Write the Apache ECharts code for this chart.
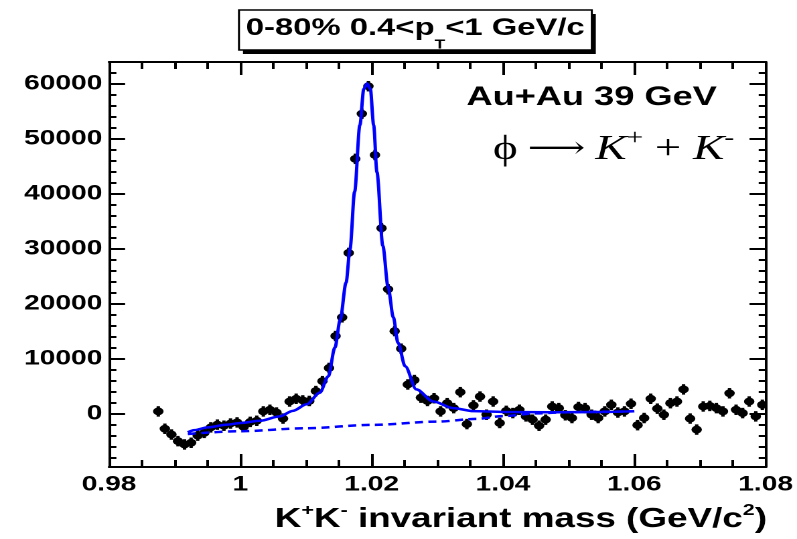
<!DOCTYPE html>
<html>
<head>
<meta charset="utf-8">
<script src="https://cdn.jsdelivr.net/npm/echarts@6/dist/echarts.min.js"></script>
<style>
  html, body { margin: 0; padding: 0; background: #fff; overflow: hidden; }
  #wrap { width: 797px; height: 539px; overflow: hidden; position: relative; }
  /* ROOT canvas is drawn at 595 px wide and stretched horizontally to 797 px */
  #chart { width: 595px; height: 539px; transform: scaleX(1.3395); transform-origin: 0 0; }
</style>
</head>
<body>
<div id="wrap"><div id="chart"></div></div>
<script>
// K+K- invariant-mass bin centres (GeV/c^2)
const massBins = [
  0.9875, 0.9885, 0.9895, 0.9905, 0.9915, 0.9925, 0.9935, 0.9945, 0.9955, 0.9965,
  0.9975, 0.9985, 0.9995, 1.0005, 1.0015, 1.0025, 1.0035, 1.0045, 1.0055, 1.0065,
  1.0075, 1.0085, 1.0095, 1.0105, 1.0115, 1.0125, 1.0135, 1.0145, 1.0155, 1.0165,
  1.0175, 1.0185, 1.0195, 1.0205, 1.0215, 1.0225, 1.0235, 1.0245, 1.0255, 1.0265,
  1.0275, 1.0285, 1.0295, 1.0305, 1.0315, 1.0325, 1.0335, 1.0345, 1.0355, 1.0365,
  1.0375, 1.0385, 1.0395, 1.0405, 1.0415, 1.0425, 1.0435, 1.0445, 1.0455, 1.0465,
  1.0475, 1.0485, 1.0495, 1.0505, 1.0515, 1.0525, 1.0535, 1.0545, 1.0555, 1.0565,
  1.0575, 1.0585, 1.0595, 1.0605, 1.0615, 1.0625, 1.0635, 1.0645, 1.0655, 1.0665,
  1.0675, 1.0685, 1.0695, 1.0705, 1.0715, 1.0725, 1.0735, 1.0745, 1.0755, 1.0765,
  1.0775, 1.0785, 1.0795
];

// background-subtracted pair counts per bin
const counts = [
    400, -2750, -3800, -5000, -5600, -5300, -4000, -3500, -2500, -2000,
  -2200, -1800, -1600, -2400, -1500, -1300,   400,   700,   200,  -900,
   2200,  2700,  2400,  2300,  4100,  5900,  8300, 14100, 17500, 29200,
  46300, 54500, 59500, 47000, 33700, 22600, 15000, 11800,  5300,  6100,
   2900,  2300,  2800,   400,  1900,  1000,  3900, -1900,  1500,  3100,
   -200,  2200, -1700,   500,   100,   700,  -500, -1100, -2200, -1100,
   1300,  1000,  -300,  -800,  1200,  1000,  -200,  -800,   400,  1600,
    200,   400,  1800, -2100,  -800,  2700,   900,  -200,  1900,  2200,
   4400,  -900, -2900,  1300,  1400,  1000,   400,  3700,   700,   100,
   2200,  -500,  1600
];

// statistical error half-length and half bin width
const countErr = 950;
const halfBin = 0.0005;

// total fit (Breit-Wigner + residual background)
const fitMass = [
  0.9920, 0.9930, 0.9950, 0.9980, 1.0000, 1.0030, 1.0060, 1.0080, 1.0101, 1.0121,
  1.0134, 1.0144, 1.0152, 1.0161, 1.0167, 1.0174, 1.0182, 1.0188, 1.0193, 1.0198,
  1.0203, 1.0208, 1.0217, 1.0225, 1.0233, 1.0240, 1.0251, 1.0268, 1.0294, 1.0324,
  1.0355, 1.0400, 1.0470, 1.0550, 1.0600
];
const fitTotal = [
  -3400, -3000, -2500, -2000, -1700, -1300,  -500,   500,  1700,  3800,
   6800, 12000, 17000, 23800, 29900, 40300, 52400, 59000, 60000, 59000,
  52400, 43900, 30500, 23000, 17500, 12900,  8600,  4400,  2200,  1000,
    450,   300,   250,   300,   420
];

// residual background component of the fit
const bgMass = [0.9920, 1.0000, 1.0100, 1.0200, 1.0300, 1.0360, 1.0400, 1.0450, 1.0500, 1.0550, 1.0600];
const bgResidual = [-3700, -3200, -2650, -2050, -1450, -950, -450, 50, 250, 350, 420];

// axis ticks
const yMajorTicks = [0, 10000, 20000, 30000, 40000, 50000, 60000];
const yMinorTicks = [-8000, -6000, -4000, -2000, 2000, 4000, 6000, 8000, 12000, 14000, 16000, 18000,
  22000, 24000, 26000, 28000, 32000, 34000, 36000, 38000, 42000, 44000, 46000, 48000,
  52000, 54000, 56000, 58000, 62000];

const chart = echarts.init(document.getElementById('chart'), null, {
  renderer: 'canvas', width: 595, height: 539, devicePixelRatio: 2
});

const gridBox = { left: 81.4, right: 23.1, top: 62, bottom: 72 };
const black = '#000000';
const sans = 'Liberation Sans, Arial, Helvetica, sans-serif';
const serif = 'Liberation Serif, Times New Roman, DejaVu Serif, serif';
const tickLabel = { fontFamily: sans, fontWeight: 'bold', fontSize: 21, color: black };
const frameLine = { show: true, onZero: false, lineStyle: { color: black, width: 2 } };

function xFrameAxis(position, withLabels) {
  return {
    gridIndex: 0, type: 'value', position: position,
    min: 0.98, max: 1.08, interval: 0.02,
    axisLine: frameLine,
    axisTick: { show: true, inside: true, length: 13, lineStyle: { color: black, width: 2 } },
    minorTick: { show: true, splitNumber: 4, length: 7, lineStyle: { color: black, width: 2 } },
    axisLabel: withLabels ? Object.assign({ margin: 7 }, tickLabel) : { show: false },
    splitLine: { show: false }, minorSplitLine: { show: false }
  };
}

function yFrameAxis(gridIndex, position, ticks, len, withLabels) {
  return {
    gridIndex: gridIndex, type: 'value', position: position,
    min: -9700, max: 63900,
    axisLine: gridIndex === 0 ? frameLine : { show: false },
    axisTick: { show: true, inside: true, length: len, customValues: ticks,
                lineStyle: { color: black, width: 2 } },
    axisLabel: withLabels
      ? Object.assign({ margin: 5, customValues: ticks, formatter: v => String(v) }, tickLabel)
      : { show: false },
    splitLine: { show: false }
  };
}

const option = {
  animation: false,
  backgroundColor: '#ffffff',
  grid: [Object.assign({}, gridBox), Object.assign({}, gridBox)],
  xAxis: [
    xFrameAxis('bottom', true),
    xFrameAxis('top', false),
    { gridIndex: 1, type: 'value', show: false, min: 0.98, max: 1.08 }
  ],
  yAxis: [
    yFrameAxis(0, 'left', yMajorTicks, 12, true),
    yFrameAxis(0, 'right', yMajorTicks, 12, false),
    yFrameAxis(1, 'left', yMinorTicks, 5.5, false),
    yFrameAxis(1, 'right', yMinorTicks, 5.5, false)
  ],
  graphic: [
    // title pave with shadow
    { type: 'rect', shape: { x: 181.4, y: 14, width: 263.4, height: 40 }, style: { fill: black }, z: 100 },
    { type: 'rect', shape: { x: 178.4, y: 10, width: 263.4, height: 40 },
      style: { fill: '#ffffff', stroke: black, lineWidth: 1.5 }, z: 101 },
    { type: 'text', x: 310, y: 28.1, z: 102,
      style: {
        text: '{m|0-80% 0.4<p}{s|T}{m|<1 GeV/c}',
        align: 'center', verticalAlign: 'middle', textAlign: 'center', textVerticalAlign: 'middle',
        rich: {
          m: { fontFamily: sans, fontWeight: 'bold', fontSize: 24.5, fill: black, color: black },
          s: { fontFamily: sans, fontWeight: 'bold', fontSize: 13, fill: black, color: black, padding: [34, 0, 0, 0] }
        }
      } },
    { type: 'text', x: 348.3, y: 97.3, z: 102,
      style: {
        text: 'Au+Au 39 GeV', fill: black,
        font: 'bold 27px ' + sans,
        align: 'left', verticalAlign: 'middle', textAlign: 'left', textVerticalAlign: 'middle'
      } },
    { type: 'text', x: 368, y: 149.8, z: 102,
      style: {
        text: '{p|ϕ}{a| ⟶ }{k|K}{u|+}{o| + }{k|K}{u|-}',
        align: 'left', verticalAlign: 'middle', textAlign: 'left', textVerticalAlign: 'middle',
        rich: {
          p: { fontFamily: serif, fontSize: 35, fill: black, color: black },
          a: { fontFamily: serif, fontSize: 30, fill: black, color: black },
          k: { fontFamily: serif, fontStyle: 'italic', fontSize: 35, fill: black, color: black },
          u: { fontFamily: serif, fontSize: 22, fill: black, color: black, padding: [0, 0, 22, 0] },
          o: { fontFamily: serif, fontSize: 35, fill: black, color: black }
        }
      } },
    { type: 'text', x: 572.6, y: 519.5, z: 102,
      style: {
        text: '{m|K}{u|+}{m|K}{u|-}{m| invariant mass (GeV/c}{u|2}{m|)}',
        align: 'right', verticalAlign: 'middle', textAlign: 'right', textVerticalAlign: 'middle',
        rich: {
          m: { fontFamily: sans, fontWeight: 'bold', fontSize: 27.5, fill: black, color: black },
          u: { fontFamily: sans, fontWeight: 'bold', fontSize: 16, fill: black, color: black, padding: [0, 0, 18, 0] }
        }
      } }
  ],
  series: [
    {
      name: 'data', type: 'custom', xAxisIndex: 0, yAxisIndex: 0, z: 2,
      data: massBins.map((m, i) => [m, counts[i]]),
      encode: { x: 0, y: 1 },
      renderItem: function (params, api) {
        const m = api.value(0), v = api.value(1);
        const c = api.coord([m, v]);
        const up = api.coord([m, v + countErr]);
        const dn = api.coord([m, v - countErr]);
        const lf = api.coord([m - halfBin, v]);
        const rt = api.coord([m + halfBin, v]);
        return {
          type: 'group',
          children: [
            { type: 'line', shape: { x1: c[0], y1: up[1], x2: c[0], y2: dn[1] },
              style: { stroke: black, lineWidth: 2.5 } },
            { type: 'line', shape: { x1: lf[0] - 0.6, y1: c[1], x2: rt[0] + 0.6, y2: c[1] },
              style: { stroke: black, lineWidth: 2.5 } },
            { type: 'circle', shape: { cx: c[0], cy: c[1], r: 3.9 }, style: { fill: black } }
          ]
        };
      }
    },
    {
      name: 'residual background', type: 'line', xAxisIndex: 0, yAxisIndex: 0, z: 3,
      data: bgMass.map((m, i) => [m, bgResidual[i]]),
      showSymbol: false, smooth: 0.3, smoothMonotone: 'x',
      lineStyle: { color: '#0000ff', width: 2.5, type: [6, 4] }
    },
    {
      name: 'fit', type: 'line', xAxisIndex: 0, yAxisIndex: 0, z: 4,
      data: fitMass.map((m, i) => [m, fitTotal[i]]),
      showSymbol: false, smooth: 0.3, smoothMonotone: 'x',
      lineStyle: { color: '#0000ff', width: 2.5 }
    }
  ]
};

chart.setOption(option);
</script>
</body>
</html>
